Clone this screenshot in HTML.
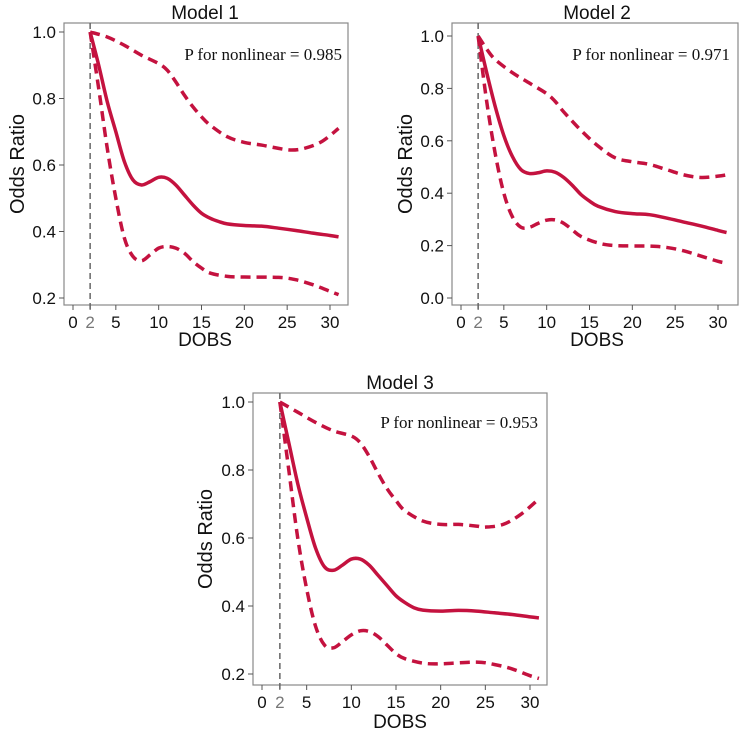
<!DOCTYPE html>
<html><head><meta charset="utf-8"><style>
body{margin:0;background:#fff;}
svg text{font-family:"Liberation Sans",sans-serif;fill:#111;}
</style></head><body>
<svg id="chart" width="740" height="733" xmlns="http://www.w3.org/2000/svg"></svg>
<script>
const xTicks=[0,2,5,10,15,20,25,30];
const yTicks1=[0.2,0.4,0.6,0.8,1.0];
const yTicks2=[0.0,0.2,0.4,0.6,0.8,1.0];
const titles=["Model 1","Model 2","Model 3"];
const pLabels=["P for nonlinear = 0.985","P for nonlinear = 0.971","P for nonlinear = 0.953"];
const m1X=[2,3,4,5,6,7,8,9,10,11,12,13,14,15,16,17,18,20,22,24,26,28,30,31];
const m1Mid=[1.0,0.9,0.79,0.7,0.61,0.555,0.54,0.55,0.563,0.56,0.54,0.51,0.48,0.455,0.44,0.43,0.423,0.418,0.416,0.41,0.403,0.395,0.388,0.384];
const m1UpX=[2,4,6,8,10,11,12,13,14,15,16,18,20,22,24,25.5,27,29,31];
const m1Up=[1.0,0.985,0.96,0.93,0.905,0.885,0.85,0.81,0.775,0.745,0.72,0.685,0.668,0.66,0.65,0.645,0.65,0.67,0.71];
const m1LoX=[2,3,4,5,6,7,8,9,10,11,12,13,14,15,16,18,20,24,26,28,30,31];
const m1Lo=[1.0,0.83,0.65,0.5,0.38,0.325,0.312,0.33,0.35,0.355,0.35,0.335,0.31,0.29,0.275,0.265,0.263,0.262,0.255,0.24,0.22,0.21];
const m2X=[2,3,4,5,6,7,8,9,10,11,12,13,14,15,16,18,20,22,24,26,28,30,31];
const m2Mid=[1.0,0.86,0.73,0.62,0.54,0.49,0.475,0.478,0.485,0.48,0.46,0.43,0.395,0.37,0.35,0.33,0.322,0.318,0.305,0.29,0.275,0.258,0.25];
const m2UpX=[2,3,4,6,8,10,11,12,14,16,18,20,22,24,26,28,30,31];
const m2Up=[1.0,0.95,0.91,0.86,0.82,0.78,0.75,0.71,0.64,0.58,0.535,0.52,0.51,0.49,0.47,0.46,0.465,0.47];
const m2LoX=[2,3,4,5,6,7,8,9,10,11,12,13,14,16,18,22,24,26,28,30,31];
const m2Lo=[1.0,0.75,0.55,0.4,0.31,0.27,0.27,0.285,0.297,0.298,0.285,0.26,0.235,0.21,0.2,0.198,0.193,0.18,0.16,0.14,0.133];
const m3X=[2,3,4,5,6,7,8,9,10,11,12,13,14,15,16,17,18,20,22,24,26,28,30,31];
const m3Mid=[1.0,0.88,0.76,0.66,0.57,0.515,0.505,0.52,0.538,0.538,0.52,0.49,0.46,0.43,0.41,0.395,0.388,0.385,0.387,0.385,0.38,0.375,0.368,0.365];
const m3UpX=[2,4,6,8,10,11,12,13,14,15,16,18,20,22,24,25,27,29,31];
const m3Up=[1.0,0.97,0.94,0.915,0.9,0.88,0.84,0.79,0.745,0.71,0.68,0.65,0.64,0.64,0.635,0.632,0.64,0.67,0.715];
const m3LoX=[2,3,4,5,6,7,8,9,10,11,12,13,14,15,16,18,20,24,26,28,30,31];
const m3Lo=[1.0,0.8,0.6,0.45,0.34,0.285,0.277,0.295,0.315,0.327,0.325,0.31,0.285,0.26,0.245,0.232,0.23,0.235,0.228,0.215,0.195,0.187];

const NS="http://www.w3.org/2000/svg";
const svg=document.getElementById('chart');
function mk(tag,attrs,parent){const e=document.createElementNS(NS,tag);for(const k in attrs)e.setAttribute(k,attrs[k]);(parent||svg).appendChild(e);return e;}
const RED="#c4123f";
function smooth(pts){let d="M"+pts[0][0]+","+pts[0][1];for(let i=0;i<pts.length-1;i++){const p0=pts[Math.max(0,i-1)],p1=pts[i],p2=pts[i+1],p3=pts[Math.min(pts.length-1,i+2)];const c1=[p1[0]+(p2[0]-p0[0])/6,p1[1]+(p2[1]-p0[1])/6],c2=[p2[0]-(p3[0]-p1[0])/6,p2[1]-(p3[1]-p1[1])/6];d+=" C"+c1+" "+c2+" "+p2;}return d;}
const panels=[
 {box:[64,23,348,305],x0:73,x30:330,yA:[1.0,32],yB:[0.2,298],yt:yTicks1,series:[[m1X,m1Mid],[m1UpX,m1Up],[m1LoX,m1Lo]],title:[205,19],p:[342,60],dobs:[205,346],orx:24},
 {box:[452,23,738,305],x0:461,x30:718,yA:[1.0,36],yB:[0.0,298],yt:yTicks2,series:[[m2X,m2Mid],[m2UpX,m2Up],[m2LoX,m2Lo]],title:[597,19],p:[730,60],dobs:[597,346],orx:412},
 {box:[253,393,547,685],x0:262,x30:530,yA:[1.0,402],yB:[0.2,674],yt:yTicks1,series:[[m3X,m3Mid],[m3UpX,m3Up],[m3LoX,m3Lo]],title:[400,389],p:[538,428],dobs:[400,728],orx:212}
];
panels.forEach((P,pi)=>{
 const g=mk('g',{});
 
 
 const xs=v=>P.x0+(P.x30-P.x0)*v/30;
 const ys=v=>P.yA[1]+(P.yB[1]-P.yA[1])*(v-P.yA[0])/(P.yB[0]-P.yA[0]);
 const [l,t,r,b]=P.box;
 const fr=mk('rect',{x:l,y:t,width:r-l,height:b-t,fill:'none',stroke:'#888','stroke-width':1.2},g);
 
 P.yt.forEach(v=>{mk('line',{x1:l-5,x2:l,y1:ys(v),y2:ys(v),stroke:'#555'},g);
  const tx=mk('text',{x:l-8,y:ys(v)+6,'text-anchor':'end','font-size':17},g);tx.textContent=v.toFixed(1);
  });
 xTicks.forEach(v=>{mk('line',{x1:xs(v),x2:xs(v),y1:b,y2:b+5,stroke:'#555'},g);
  const tx=mk('text',{x:xs(v),y:b+23,'text-anchor':'middle','font-size':17},g);tx.textContent=v;
  if(v===2)tx.setAttribute('style','fill:#777');
  });
 const ref=mk('line',{x1:xs(2),x2:xs(2),y1:t,y2:b+5,stroke:'#666','stroke-width':1.5,'stroke-dasharray':'6,4'},g);
 
 P.series.forEach((s,si)=>{
  const pts=s[0].map((x,i)=>[xs(x),ys(s[1][i])]);
  const path=mk('path',{d:smooth(pts),fill:'none',stroke:RED,'stroke-width':3.5},g);
  if(si>0)path.setAttribute('stroke-dasharray','10,6');
  
  
 });
 const ti=mk('text',{x:P.title[0],y:P.title[1],'text-anchor':'middle','font-size':19},g);ti.textContent=titles[pi];
 
 const pt=mk('text',{x:P.p[0],y:P.p[1],'text-anchor':'end','font-size':17,style:'font-family:"Liberation Serif",serif'},g);pt.textContent=pLabels[pi];
 
 const xl=mk('text',{x:P.dobs[0],y:P.dobs[1],'text-anchor':'middle','font-size':19},g);xl.textContent="DOBS";
 
 const cy=(t+b)/2;
 const yl=mk('text',{x:P.orx,y:cy,'text-anchor':'middle','font-size':20,transform:'rotate(-90 '+P.orx+' '+cy+')'},g);yl.textContent="Odds Ratio";
 
});
</script>
</body></html>
